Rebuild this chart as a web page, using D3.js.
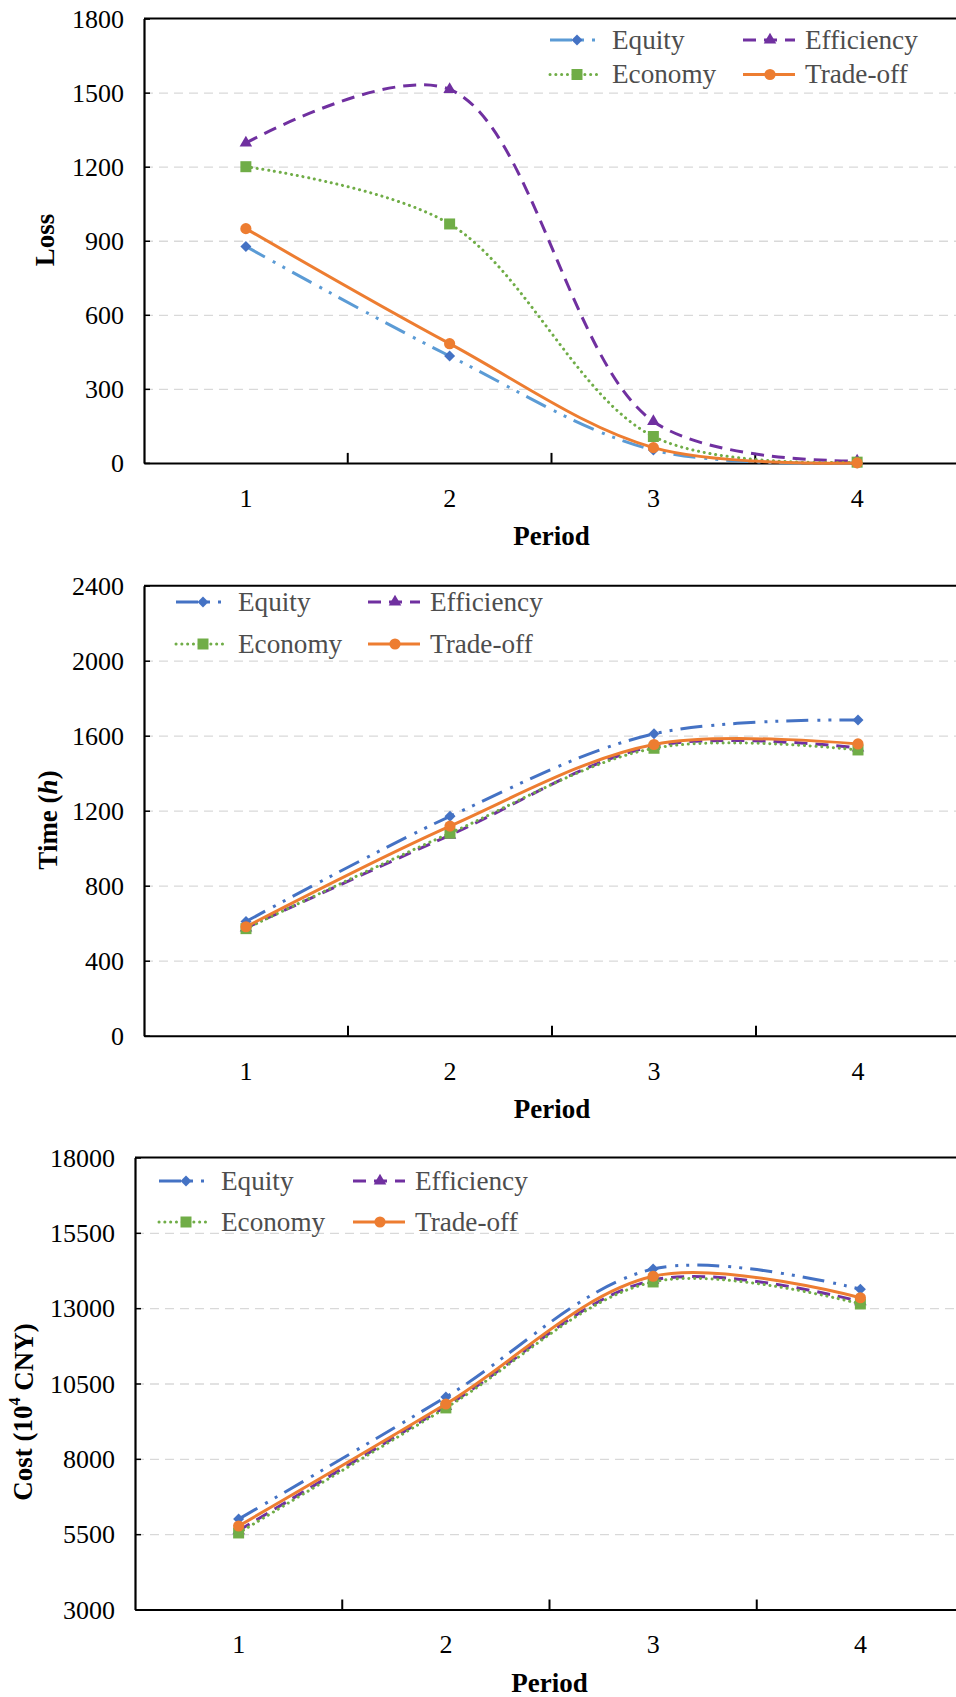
<!DOCTYPE html>
<html>
<head>
<meta charset="utf-8">
<script src="https://cdn.jsdelivr.net/npm/d3@7"></script>
<style>
body { margin: 0; background: #fff; }
svg { display: block; }
svg text { font-family: "Liberation Serif", "Times New Roman", "DejaVu Serif", serif !important; }
</style>
</head>
<body>
<div id="vis"></div>
<script>
const periods = ['1', '2', '3', '4'];
const seriesNames = ['Equity', 'Efficiency', 'Economy', 'Trade-off'];

// Loss
const lossEquity = [877, 433, 52, 0];
const lossEfficiency = [1296, 1513, 168, 8];
const lossEconomy = [1200, 968, 107, 3];
const lossTradeoff = [949, 483, 62, 0];
const lossTicks = [0, 300, 600, 900, 1200, 1500, 1800];

// Time (h)
const timeEquity = [609, 1170, 1610, 1684];
const timeEfficiency = [575, 1070, 1545, 1535];
const timeEconomy = [571, 1080, 1533, 1524];
const timeTradeoff = [581, 1118, 1553, 1556];
const timeTicks = [0, 400, 800, 1200, 1600, 2000, 2400];

// Cost (10^4 CNY)
const costEquity = [6000, 10050, 14300, 13630];
const costEfficiency = [5620, 9740, 13930, 13220];
const costEconomy = [5540, 9690, 13870, 13140];
const costTradeoff = [5770, 9820, 14060, 13345];
const costTicks = [3000, 5500, 8000, 10500, 13000, 15500, 18000];

const width = 956, height = 1697;
const serif = '"Liberation Serif", "Times New Roman", serif';

const styles = {
  'Equity':     {color: '#4472c4', dash: '22 9 3 8 3 8', cap: 'butt', symbol: d3.symbolSquare, size: 60, rotate: 45},
  'Efficiency': {color: '#7030a0', dash: '13 8', cap: 'butt', symbol: d3.symbolTriangle, size: 68, rotate: 0},
  'Economy':    {color: '#70ad47', dash: '0.1 5.7', cap: 'round', symbol: d3.symbolSquare, size: 121, rotate: 0},
  'Trade-off':  {color: '#ed7d31', dash: null, cap: 'butt', symbol: d3.symbolCircle, size: 98, rotate: 0}
};

const panels = [
  {values: [lossEquity, lossEfficiency, lossEconomy, lossTradeoff], ticks: lossTicks,
   left: 144, right: 959, top: 18.6, bottom: 462.9, titleX: 45, titleY: 240,
   legendX: [550, 743], legendY: [40, 74.5], equityLine: '#5b9bd5', title: 'loss'},
  {values: [timeEquity, timeEfficiency, timeEconomy, timeTradeoff], ticks: timeTicks,
   left: 144, right: 960, top: 585.7, bottom: 1035.7, titleX: 48, titleY: 820,
   legendX: [176, 368], legendY: [602, 644], equityLine: '#4472c4', title: 'time'},
  {values: [costEquity, costEfficiency, costEconomy, costTradeoff], ticks: costTicks,
   left: 135, right: 964, top: 1157.5, bottom: 1609.5, titleX: 23, titleY: 1412,
   legendX: [159, 353], legendY: [1181, 1222], equityLine: '#4472c4', title: 'cost'}
];

const svg = d3.select('#vis')
  .append('svg')
  .attr('width', width)
  .attr('height', height)
  .attr('font-family', serif);

function drawPanel(p) {
  const g = svg.append('g');
  const x = d3.scaleBand().domain(periods).range([p.left, p.right]);
  const y = d3.scaleLinear()
    .domain([p.ticks[0], p.ticks[p.ticks.length - 1]])
    .range([p.bottom, p.top]);
  const cx = d => x(d) + x.bandwidth() / 2;

  // dashed gridlines
  g.append('g')
    .attr('transform', `translate(${p.left},0)`)
    .call(d3.axisLeft(y).tickValues(p.ticks.slice(1, -1)).tickSize(-(p.right - p.left)).tickFormat(''))
    .call(a => a.select('.domain').remove())
    .selectAll('line')
    .attr('stroke', '#d9d9d9')
    .attr('stroke-width', 1.3)
    .attr('stroke-dasharray', '9 6');

  // y axis, short ticks pointing inward
  const yAxis = g.append('g')
    .attr('transform', `translate(${p.left},0)`)
    .call(d3.axisLeft(y).tickValues(p.ticks).tickSizeInner(-6).tickSizeOuter(0).tickPadding(20).tickFormat(d3.format('d')));
  yAxis.attr('font-family', serif).attr('font-size', 26);
  yAxis.select('.domain').attr('stroke', '#000').attr('stroke-width', 2.2);
  yAxis.selectAll('.tick line').attr('stroke', '#000').attr('stroke-width', 1.5);
  yAxis.selectAll('.tick text').attr('fill', '#000').attr('dy', '0.33em').attr('font-family', serif);

  // x axis
  const xAxis = g.append('g')
    .attr('transform', `translate(0,${p.bottom})`)
    .call(d3.axisBottom(x).tickSize(0).tickPadding(25.5));
  xAxis.attr('font-family', serif).attr('font-size', 26);
  xAxis.select('.domain').attr('stroke', '#000').attr('stroke-width', 2);
  xAxis.selectAll('.tick text').attr('fill', '#000').attr('font-family', serif);

  // category boundary ticks
  g.selectAll('.btick')
    .data(periods.slice(1))
    .join('line')
    .attr('x1', d => x(d)).attr('x2', d => x(d))
    .attr('y1', p.bottom).attr('y2', p.bottom - 10)
    .attr('stroke', '#000').attr('stroke-width', 2);

  // top border
  g.append('line')
    .attr('x1', p.left).attr('x2', p.right)
    .attr('y1', p.top).attr('y2', p.top)
    .attr('stroke', '#000').attr('stroke-width', 2);

  // series lines + markers
  const line = d3.line()
    .x((d, i) => cx(periods[i]))
    .y(d => y(d))
    .curve(d3.curveCatmullRom.alpha(0.5));

  seriesNames.forEach((name, k) => {
    const s = styles[name];
    const vals = p.values[k];
    g.append('path')
      .datum(vals)
      .attr('d', line)
      .attr('fill', 'none')
      .attr('stroke', name === 'Equity' ? p.equityLine : s.color)
      .attr('stroke-width', 3)
      .attr('stroke-linecap', s.cap)
      .attr('stroke-dasharray', s.dash);
    g.selectAll(null)
      .data(vals)
      .join('path')
      .attr('d', d3.symbol(s.symbol, s.size))
      .attr('transform', (d, i) => `translate(${cx(periods[i])},${y(d)}) rotate(${s.rotate})`)
      .attr('fill', s.color);
  });

  // legend
  const legendPos = [[0, 0], [1, 0], [0, 1], [1, 1]];
  seriesNames.forEach((name, k) => {
    const s = styles[name];
    const lx = p.legendX[legendPos[k][0]];
    const ly = p.legendY[legendPos[k][1]];
    g.append('line')
      .attr('x1', lx).attr('x2', lx + 52)
      .attr('y1', ly).attr('y2', ly)
      .attr('stroke', name === 'Equity' ? p.equityLine : s.color)
      .attr('stroke-width', 3)
      .attr('stroke-linecap', s.cap)
      .attr('stroke-dasharray', s.dash);
    g.append('path')
      .attr('d', d3.symbol(s.symbol, s.size)())
      .attr('transform', `translate(${lx + 27},${ly}) rotate(${s.rotate})`)
      .attr('fill', s.color);
    g.append('text')
      .attr('x', lx + 62).attr('y', ly).attr('dy', '0.33em')
      .attr('font-family', serif)
      .attr('font-size', 27.2)
      .attr('fill', '#4d4d4d')
      .text(name);
  });

  // axis titles
  g.append('text')
    .attr('x', (p.left + p.right) / 2)
    .attr('y', p.bottom + 82)
    .attr('text-anchor', 'middle')
    .attr('font-family', serif)
    .attr('font-size', 27)
    .attr('font-weight', 'bold')
    .text('Period');

  const yt = g.append('text')
    .attr('transform', `translate(${p.titleX},${p.titleY}) rotate(-90)`)
    .attr('text-anchor', 'middle')
    .attr('dy', '0.35em')
    .attr('font-family', serif)
    .attr('font-size', 27)
    .attr('font-weight', 'bold');
  if (p.title === 'loss') {
    yt.text('Loss');
  } else if (p.title === 'time') {
    yt.append('tspan').text('Time (');
    yt.append('tspan').attr('font-style', 'italic').text('h');
    yt.append('tspan').text(')');
  } else {
    yt.append('tspan').text('Cost (10');
    yt.append('tspan').attr('font-size', 16).attr('dy', '-0.75em').text('4');
    yt.append('tspan').attr('dy', '0.45em').text(' CNY)');
  }
}

panels.forEach(drawPanel);
</script>
</body>
</html>
